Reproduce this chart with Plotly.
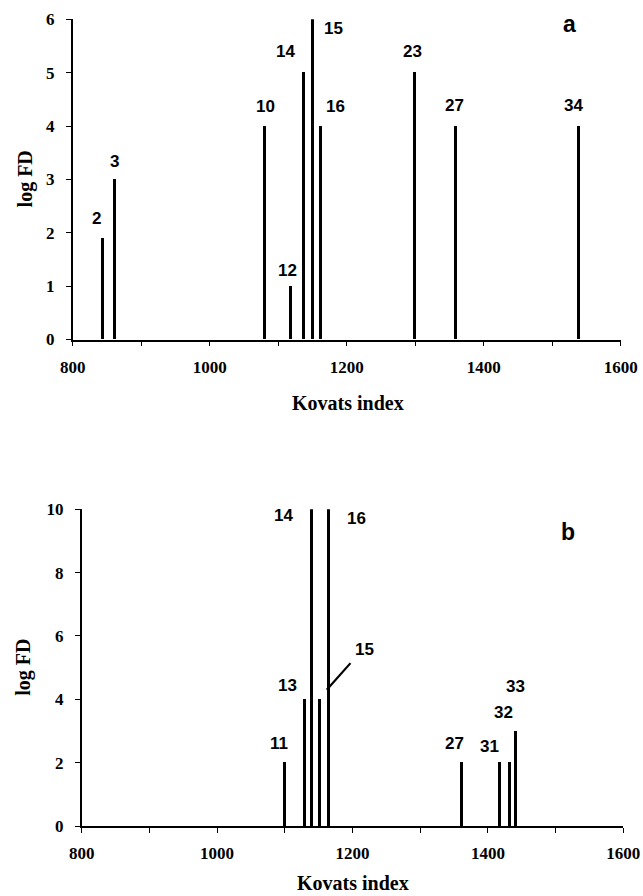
import plotly.graph_objects as go

# ---------------- data ----------------
# panel a
a_kovats = [843, 860, 1079, 1117, 1136, 1150, 1161, 1298, 1359, 1538]
a_logfd = [1.9, 3, 4, 1, 5, 6, 4, 5, 4, 4]
a_ids = ["2", "3", "10", "12", "14", "15", "16", "23", "27", "34"]
# panel b
b_kovats = [1099, 1128, 1139, 1151, 1164, 1361, 1417, 1431, 1440]
b_logfd = [2, 4, 10, 4, 10, 2, 2, 2, 3]
b_ids = ["11", "13", "14", "15", "16", "27", "31", "32", "33"]

x_ticks = [800, 1000, 1200, 1400, 1600]
a_yticks = [0, 1, 2, 3, 4, 5, 6]
b_yticks = [0, 2, 4, 6, 8, 10]

# label anchor positions (data coords) for the peak numbers
a_label_pos = [(835, 2.27), (861, 3.33), (1082, 4.36), (1114, 1.30), (1110, 5.40),
               (1180, 5.82), (1183, 4.37), (1296, 5.40), (1358, 4.39), (1531, 4.39)]
b_label_pos = [(1091, 2.61), (1104, 4.45), (1098, 9.79), (1217, 5.56), (1206, 9.72),
               (1350, 2.61), (1403, 2.50), (1423, 3.58), (1441, 4.42)]
b_leader = {"id": "15", "from": (1199, 5.19), "to": (1162, 4.30)}

# ---------------- figure ----------------
W, H = 643, 896
fig = go.Figure()

fig.add_trace(go.Bar(x=a_kovats, y=a_logfd, width=4.3, marker=dict(color="black", line=dict(width=0)),
                     xaxis="x", yaxis="y", showlegend=False))
fig.add_trace(go.Bar(x=b_kovats, y=b_logfd, width=4.3, marker=dict(color="black", line=dict(width=0)),
                     xaxis="x2", yaxis="y2", showlegend=False))


def tfont():
    return dict(family="Liberation Serif, Times New Roman, serif", size=17, color="black", weight="bold")


def axis_common():
    return dict(showgrid=False, zeroline=False, showline=True, linecolor="black", linewidth=1.5,
                ticks="outside", ticklen=5, tickwidth=1.3, tickcolor="black", tickfont=tfont(),
                automargin=False)


top_x_dom = [72.7 / W, 620.7 / W]
top_y_dom = [(H - 339.5) / H, (H - 19.3) / H]
bot_x_dom = [81.7 / W, 623.3 / W]
bot_y_dom = [(H - 826) / H, (H - 509.3) / H]

fig.update_layout(
    width=W, height=H,
    margin=dict(l=0, r=0, t=0, b=0, pad=0, autoexpand=False),
    paper_bgcolor="white", plot_bgcolor="white",
    font=dict(family="Liberation Serif", color="black"),
    bargap=0,
    xaxis=dict(domain=top_x_dom, range=[800, 1600], anchor="y", tickvals=x_ticks,
               minor=dict(dtick=100, tick0=800, ticks="outside", ticklen=5, tickcolor="black"),
               ticklabelstandoff=6, **axis_common()),
    yaxis=dict(domain=top_y_dom, range=[0, 6], anchor="x", tickvals=a_yticks,
               ticklabelstandoff=8, **axis_common()),
    xaxis2=dict(domain=bot_x_dom, range=[800, 1600], anchor="y2", tickvals=x_ticks,
                minor=dict(dtick=100, tick0=800, ticks="outside", ticklen=5, tickcolor="black"),
                ticklabelstandoff=6, **axis_common()),
    yaxis2=dict(domain=bot_y_dom, range=[0, 10], anchor="x2", tickvals=b_yticks,
                ticklabelstandoff=8, **axis_common()),
)

label_font = dict(family="Liberation Sans", size=17, color="black", weight="bold")
annotations = []
for lab, (lx, ly) in zip(a_ids, a_label_pos):
    annotations.append(dict(x=lx, y=ly, xref="x", yref="y", text=lab, showarrow=False, font=label_font))
for lab, (lx, ly) in zip(b_ids, b_label_pos):
    annotations.append(dict(x=lx, y=ly, xref="x2", yref="y2", text=lab, showarrow=False, font=label_font))

# leader line for peak 15 in panel b
annotations.append(dict(x=b_leader["to"][0], y=b_leader["to"][1], xref="x2", yref="y2",
                        ax=b_leader["from"][0], ay=b_leader["from"][1], axref="x2", ayref="y2",
                        text="", showarrow=True, arrowhead=0, arrowwidth=2.2, arrowcolor="black"))

panel_font = dict(family="Liberation Sans", size=23, color="black", weight="bold")
annotations.append(dict(x=1525, y=5.92, xref="x", yref="y", text="a", showarrow=False, font=panel_font))
annotations.append(dict(x=1518, y=9.29, xref="x2", yref="y2", text="b", showarrow=False, font=panel_font))

title_font = dict(family="Liberation Serif", size=20, color="black", weight="bold")
ctr = dict(xanchor="center", yanchor="middle", showarrow=False, font=title_font, xref="paper", yref="paper")
# axis titles
annotations.append(dict(x=347.5 / W, y=(H - 402.7) / H, text="Kovats index", **ctr))
annotations.append(dict(x=353 / W, y=(H - 882.5) / H, text="Kovats index", **ctr))
annotations.append(dict(x=25 / W, y=(H - 179.4) / H, text="log FD", textangle=-90, **ctr))
annotations.append(dict(x=24 / W, y=(H - 667.7) / H, text="log FD", textangle=-90, **ctr))

fig.update_layout(annotations=annotations)

fig.write_html("out.html", config={"displayModeBar": False},
               post_script="document.body.style.margin='0';document.body.style.overflow='hidden';")
